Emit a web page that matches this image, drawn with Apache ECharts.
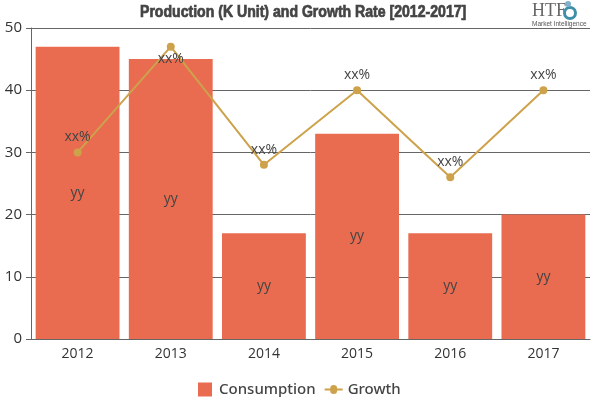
<!DOCTYPE html>
<html>
<head>
<meta charset="utf-8">
<script src="https://cdn.jsdelivr.net/npm/echarts@6/dist/echarts.min.js"></script>
<style>html,body{margin:0;padding:0;background:#fff}</style>
</head>
<body>
<div id="main" style="width:600px;height:400px"></div>
<script>
var years = ['2012', '2013', '2014', '2015', '2016', '2017'];
var consumption = [47, 45, 17, 33, 17, 20];
var growth = [30, 47, 28, 40, 26, 40];
var titleText = 'Production (K Unit) and Growth Rate [2012-2017]';

// 2013 label sits under its point, the rest above
var growthData = growth.map(function (v, i) {
    if (i === 1) return { value: v, label: { position: 'bottom', distance: 1 } };
    return v;
});

var chart = echarts.init(document.getElementById('main'));
chart.setOption({
    animation: false,
    color: ['#e96c50', '#cda24b'],
    legend: {
        top: 382,
        left: 196,
        padding: 0,
        itemGap: 9,
        itemWidth: 18,
        itemHeight: 14,
        textStyle: { fontFamily: 'Noto Sans', fontSize: 15, fontWeight: 500, color: '#444' },
        data: [
            { name: 'Consumption', icon: 'path://M0 0L0 0M2 0H16V14H2ZM18 14L18 14' },
            { name: 'Growth', icon: 'path://M0 0L0 0M0 6H5.5A3.5 3.5 0 0 1 12.5 6H18V8H12.5A3.5 3.5 0 0 1 5.5 8H0ZM18 14L18 14' }
        ]
    },
    grid: { left: 31, right: 10, top: 28, bottom: 61 },
    xAxis: {
        type: 'category',
        data: years,
        axisLine: { lineStyle: { color: '#666' } },
        axisTick: { alignWithLabel: true, lineStyle: { color: '#666' } },
        axisLabel: { fontFamily: 'Open Sans', fontSize: 14, color: '#333', margin: 8 }
    },
    yAxis: {
        type: 'value',
        min: 0,
        max: 50,
        interval: 10,
        axisLine: { show: true, lineStyle: { color: '#666' } },
        axisTick: { show: true, lineStyle: { color: '#666' } },
        axisLabel: { fontFamily: 'Open Sans', fontSize: 15, color: '#333', margin: 9 },
        splitLine: { lineStyle: { color: '#666' } }
    },
    series: [
        {
            name: 'Consumption',
            type: 'bar',
            data: consumption,
            barCategoryGap: '10%',
            label: {
                show: true,
                position: 'inside',
                formatter: 'yy',
                fontFamily: 'Open Sans',
                fontSize: 14,
                color: '#444'
            }
        },
        {
            name: 'Growth',
            type: 'line',
            data: growthData,
            symbol: 'circle',
            symbolSize: 8,
            lineStyle: { width: 2 },
            label: {
                show: true,
                position: 'top',
                formatter: 'xx%',
                fontFamily: 'Open Sans',
                fontSize: 14,
                color: '#444',
                distance: 4
            }
        }
    ],
    graphic: [
        {
            type: 'text', x: 140, y: 5, scaleX: 0.88,
            style: {
                text: titleText,
                fontFamily: 'Liberation Sans',
                fontSize: 16,
                fontWeight: 'bold',
                fill: '#444',
                stroke: '#444',
                lineWidth: 0.7
            }
        },
        { type: 'text', x: 532, y: 2, style: { text: 'HTF', fontFamily: 'Liberation Serif', fontSize: 18, fill: '#666' } },
        { type: 'text', x: 532, y: 21, style: { text: 'Market Intelligence', fontFamily: 'Liberation Sans', fontSize: 6.5, fill: '#555' } },
        { type: 'circle', shape: { cx: 570, cy: 13, r: 5.5 }, style: { fill: 'none', stroke: '#3f8fa8', lineWidth: 3 } },
        { type: 'circle', shape: { cx: 568, cy: 4, r: 3 }, style: { fill: '#7fb0cc' } }
    ]
});
</script>
</body>
</html>
